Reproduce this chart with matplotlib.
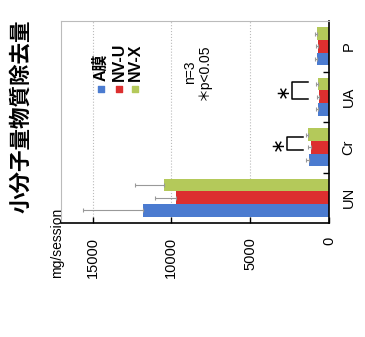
import matplotlib
matplotlib.use("Agg")
import matplotlib.pyplot as plt
import numpy as np

plt.rcParams['font.family'] = ['Liberation Sans', 'Noto Sans CJK JP', 'DejaVu Sans']

# Removal amounts of small-molecule solutes (mg/session), mean and SD, n=3
categories = ["UN", "Cr", "UA", "P"]
series = ["A膜", "NV-U", "NV-X"]
a_membrane = [11790, 1250, 680, 740]
a_membrane_sd = [3800, 220, 140, 150]
nv_u = [9680, 1160, 610, 680]
nv_u_sd = [1330, 170, 150, 150]
nv_x = [10490, 1310, 680, 780]
nv_x_sd = [1790, 150, 140, 110]
value_ticks = [0, 5000, 10000, 15000]

# Significance brackets: category, span (offsets within group), leg end, bracket level
sig_categories = ["Cr", "UA"]
sig_span_low = [-0.05, -0.05]
sig_span_high = [0.21, 0.30]
sig_leg_end = [1650, 1330]
sig_level = [2640, 2340]
sig_star_pos = [3230, 2930]

colors = ['#4b7bd0', '#dc2f2f', '#b4c95a']
values = [a_membrane, nv_u, nv_x]
errors = [a_membrane_sd, nv_u_sd, nv_x_sd]

W, H = 365, 337
fig = plt.figure(figsize=(W / 100, H / 100), dpi=100)
ax = fig.add_axes([61 / W, 1 - 223 / H, 268 / W, 202 / H])

pos = np.arange(len(categories))
h = 0.25
offsets = [-h, 0, h]
for vals, errs, col, off in zip(values, errors, colors, offsets):
    ax.barh(pos + off, vals, height=h, color=col, edgecolor='none', zorder=2)
    ax.errorbar(vals, pos + off, xerr=[np.zeros(len(errs)), errs], fmt='none',
                ecolor='#999999', elinewidth=0.8, capsize=1.5, capthick=0.8, zorder=3)

ax.set_xlim(17000, 0)
ax.set_ylim(-0.5, len(categories) - 0.5)

ax.set_xticks(value_ticks)
ax.set_xticklabels([str(v) for v in value_ticks], rotation=90)
ax.tick_params(axis='x', direction='in', length=4, width=1, pad=10, labelsize=10.5)
ax.grid(axis='x', linestyle=':', color='#bbbbbb', linewidth=0.8, zorder=0)

ax.set_yticks(pos[:-1] + 0.5)
ax.set_yticklabels([])
ax.set_yticks(pos, minor=True)
ax.set_yticklabels(categories, minor=True, rotation=90, va='center')
ax.tick_params(axis='y', which='both', left=False, right=True,
               labelleft=False, labelright=True, direction='in')
ax.tick_params(axis='y', which='major', length=4, width=1)
ax.tick_params(axis='y', which='minor', length=0, pad=9, labelsize=10.5)

for side in ['right', 'bottom']:
    ax.spines[side].set_color('black')
    ax.spines[side].set_linewidth(1.2)
for side in ['top', 'left']:
    ax.spines[side].set_color('#bbbbbb')
    ax.spines[side].set_linewidth(0.8)

# significance brackets
for cat, lo, hi, leg, lvl, sx in zip(sig_categories, sig_span_low, sig_span_high,
                                     sig_leg_end, sig_level, sig_star_pos):
    c = categories.index(cat)
    ax.plot([leg, lvl, lvl, leg], [c + lo, c + lo, c + hi, c + hi],
            color='black', lw=1.1, zorder=4)
    ax.text(sx, c + (lo + hi) / 2, '∗', rotation=90, ha='center', va='center',
            fontsize=13, family='DejaVu Sans')

# legend drawn vertically
leg_x = [0.149, 0.218, 0.276]
for lx, col, name in zip(leg_x, colors, series):
    ax.scatter([lx], [0.663], marker='s', s=22, color=col, transform=ax.transAxes,
               clip_on=False, zorder=5)
    ax.text(lx, 0.703, name, rotation=90, ha='center', va='bottom',
            transform=ax.transAxes, fontsize=11.5, weight='bold')

ax.text(0.508, 0.748, "n=3\n＊p<0.05", rotation=90, ha='center', va='center',
        multialignment='center', transform=ax.transAxes, fontsize=10,
        linespacing=1.0)

fig.text(21 / W, 1 - 116 / H, '小分子量物質除去量', rotation=90, ha='center',
         va='center', fontsize=15.5, weight='bold', family='Noto Sans CJK JP')
fig.text(57 / W, 1 - 243 / H, 'mg/session', rotation=90, ha='center',
         va='center', fontsize=10)

fig.savefig('out.png', dpi=100)
